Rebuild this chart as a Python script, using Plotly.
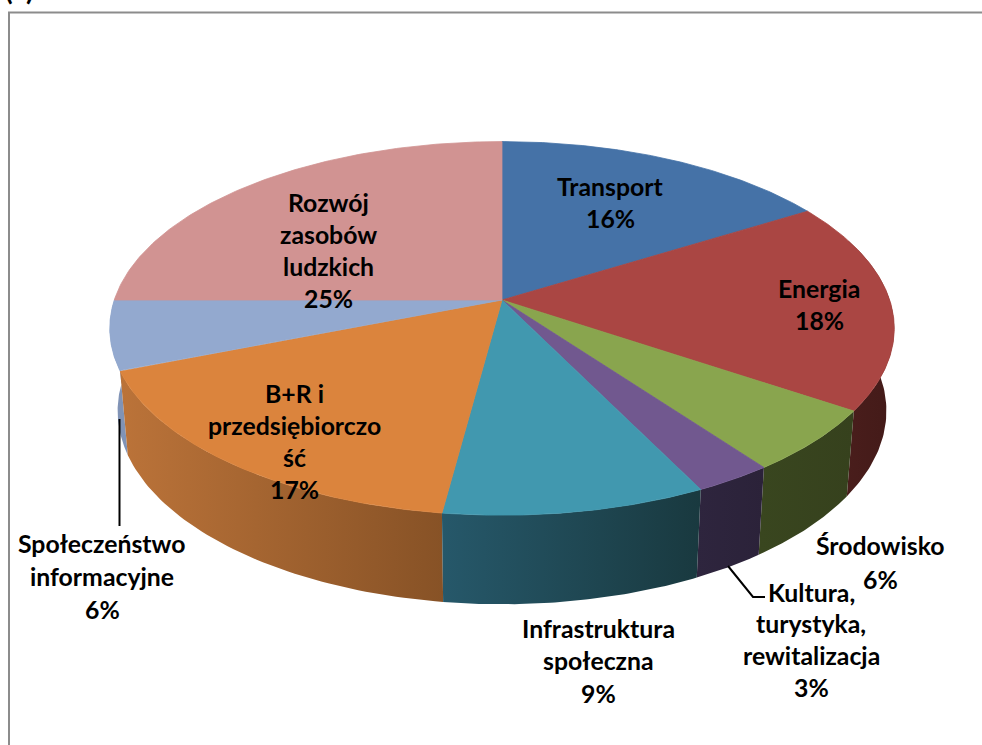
import numpy as np
import plotly.graph_objects as go

# ---- data ----
categories = ["Transport", "Energia", "Środowisko", "Kultura, turystyka, rewitalizacja",
              "Infrastruktura społeczna", "B+R i przedsiębiorczość",
              "Społeczeństwo informacyjne", "Rozwój zasobów ludzkich"]
values = [16.2, 18.2, 5.5, 2.8, 9.4, 16.9, 6.0, 25.0]
top_colors = ["#4572A7", "#AA4643", "#89A54E", "#71588F", "#4198AF", "#DB843D", "#93A9CF", "#D19392"]
side_left = [None, "#4a1e1c", "#39461f", "#2e253e", "#26586a", "#bb7339", "#8093b6", None]
side_right = [None, "#431a18", "#36411d", "#2b2239", "#19393f", "#875226", "#8093b6", None]
label_lines = [
    ["Transport", "16%"],
    ["Energia", "18%"],
    ["Środowisko", "6%"],
    ["Kultura,", "turystyka,", "rewitalizacja", "3%"],
    ["Infrastruktura", "społeczna", "9%"],
    ["B+R i", "przedsiębiorczo", "ść", "17%"],
    ["Społeczeństwo", "informacyjne", "6%"],
    ["Rozwój", "zasobów", "ludzkich", "25%"],
]
label_x = [610, 819, 880, 811, 598, 294, 102, 328]
label_y = [186, 288, 545, 592, 628, 393, 543, 202]
label_step = [32, 32, 34, 31.7, 32.5, 32, 33, 32.3]

# ---- projection of the pie disc (perspective view) ----
CX, CY, A, B, K = 502.0, 300.0, 387.7, 182.5, 0.152
S_X, S_Y, DROP = 0.98, 1.035, 81.5


def rim(theta_deg):
    t = np.radians(theta_deg)
    u, v = np.sin(t), np.cos(t)
    d = 1 + K * v
    return CX + A * u / d, CY - B * v / d


def lower(x, y):
    return CX + (x - CX) * S_X, CY + DROP + (y - CY) * S_Y


total = sum(values)
edges = np.cumsum([0] + values) / total * 360.0

fig = go.Figure()

# side walls, outer ones first, only the near half of the pie is visible
for i in [1, 6, 2, 3, 5, 4]:
    a0 = max(edges[i], 70.0)
    a1 = min(edges[i + 1], 290.0)
    th = np.linspace(a0, a1, 60)
    x, y = rim(th)
    xl, yl = lower(x, y)
    fig.add_trace(go.Scatter(
        x=np.r_[x, xl[::-1], x[0]], y=np.r_[y, yl[::-1], y[0]],
        mode="lines", line=dict(width=0), fill="toself",
        fillgradient=dict(type="horizontal",
                          colorscale=[[0, side_left[i]], [1, side_right[i]]]),
        hoverinfo="skip", showlegend=False))

# top faces
for i, name in enumerate(categories):
    th = np.linspace(edges[i], edges[i + 1], 120)
    x, y = rim(th)
    fig.add_trace(go.Scatter(
        x=np.r_[CX, x, CX], y=np.r_[CY, y, CY],
        mode="lines", line=dict(width=0.8, color=top_colors[i]), fill="toself",
        fillcolor=top_colors[i], name=name, showlegend=False))

# data labels, one annotation for each line of the wrapped text
annotations = []
for lines, lx, ly, step in zip(label_lines, label_x, label_y, label_step):
    for n, text in enumerate(lines):
        annotations.append(dict(
            x=lx, y=ly + n * step, text="<b>%s</b>" % text, xref="x", yref="y", showarrow=False,
            xanchor="center", yanchor="middle",
            font=dict(family="Lato", size=24.8, color="#000000")))
annotations.append(dict(x=3, y=7.5, text="<b>(a)</b>", xref="x", yref="y", showarrow=False,
                        xanchor="left", yanchor="bottom",
                        font=dict(family="Lato", size=28, color="#000000")))

shapes = [
    dict(type="line", x0=9, x1=9, y0=12, y1=745, line=dict(color="#8c8c8c", width=2)),
    dict(type="line", x0=8, x1=982, y0=12.5, y1=12.5, line=dict(color="#8c8c8c", width=2)),
    dict(type="line", x0=119.5, x1=119.5, y0=419, y1=526, line=dict(color="#000000", width=2)),
    dict(type="path", path="M 728 566 L 753 597 L 765 597", line=dict(color="#000000", width=2)),
]

fig.update_layout(
    width=982, height=745, margin=dict(l=0, r=0, t=0, b=0),
    paper_bgcolor="white", plot_bgcolor="white",
    xaxis=dict(range=[0, 982], visible=False, fixedrange=True),
    yaxis=dict(range=[745, 0], visible=False, fixedrange=True),
    showlegend=False, annotations=annotations, shapes=shapes,
)
fig.write_html("out.html", config=dict(displayModeBar=False),
               post_script="document.body.style.margin='0';document.body.style.overflow='hidden';")
